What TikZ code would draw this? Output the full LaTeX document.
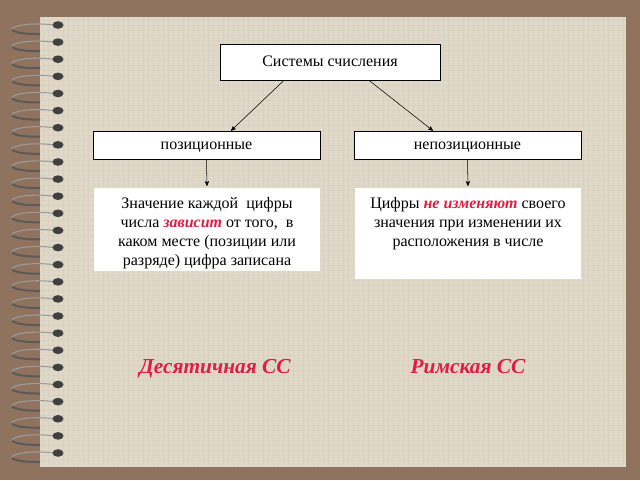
\documentclass[tikz,border=0pt]{standalone}
\usepackage{fontspec}
\setmainfont{Liberation Serif}
\usepackage{xcolor}
\usetikzlibrary{arrows}
\definecolor{board}{RGB}{143,115,95}
\definecolor{paper}{RGB}{224,216,200}
\definecolor{weave}{RGB}{218,210,193}
\definecolor{accent}{RGB}{222,30,68}
\definecolor{wire}{RGB}{90,90,88}
\tikzset{
	>=stealth', % small filled arrow heads
	box/.style={draw, thin, fill=white, text height=8.5pt, text depth=2.5pt, font=\fontsize{12}{14}\selectfont}, % framed boxes
	desc/.style={fill=white, inner sep=0pt, anchor=north, font=\fontsize{12}{14.3}\selectfont}, % white note boxes
	kind/.style={text=accent, text height=11pt, text depth=3.5pt, font=\fontsize{16}{18}\selectfont\bfseries\itshape}, % red labels at the bottom
}
\newcommand{\hl}[1]{\textcolor{accent}{\textbf{\textit{#1}}}}

\begin{document}
\begin{tikzpicture}[x=0.75pt,y=-0.75pt]
	\useasboundingbox (0,0) rectangle (640,480);
	\fill[board] (0,0) rectangle (640,480);
	\fill[paper] (40,17) rectangle (626,467);
	% faint weave of the paper
	\foreach \t in {43,48,...,623}
		\draw[weave, line width=0.25pt] (\t,17) -- (\t,467);
	\foreach \t in {20,25,...,464}
		\draw[weave, line width=0.25pt] (40,\t) -- (626,\t);

	% spiral binding
	\foreach \i in {0,...,25}
	{
		\pgfmathsetmacro{\y}{25+17.12*\i}
		\draw[wire!60, line width=0.8pt] (54,\y) .. controls (30,\y-3) and (10,\y+1) .. (12,\y+5);
		\draw[wire, line width=1.5pt] (12,\y+5) .. controls (18,\y+9) and (32,\y+9) .. (40,\y+9);
		\fill[black!75] (58,\y) ellipse [x radius=5.5, y radius=3.8];
	}

	\node[box, minimum width=165pt, minimum height=27pt] (sys) at (330,62) {Системы счисления};
	\node[box, minimum width=170pt, minimum height=21pt] (pos) at (206.5,145) {позиционные};
	\node[box, minimum width=170pt, minimum height=21pt] (npos) at (467.5,145) {непозиционные};

	\node[desc] (dpos) at (207,188) {\parbox[c][62pt][t]{169.5pt}{\centering\vspace*{6.5pt}%
		Значение каждой~ цифры\\ числа \hl{зависит} от того,~ в\\ каком месте (позиции или\\ разряде) цифра записана}};
	\node[desc] (dnpos) at (468,188) {\parbox[c][68pt][t]{169.5pt}{\centering\vspace*{6.5pt}%
		Цифры \hl{не изменяют} своего\\ значения при изменении их\\ расположения в числе}};

	\node[kind] (dec) at (215,368) {Десятичная СС};
	\node[kind] (rom) at (468,368) {Римская СС};

	\draw[->] ([xshift=-34.5pt]sys.south) -- ([xshift=18.4pt]pos.north);
	\draw[->] ([xshift=29.2pt]sys.south) -- ([xshift=-25.9pt]npos.north);
	\draw[->, shorten >=1.5pt] (pos.south) -- (dpos.north);
	\draw[->, shorten >=1.5pt] (npos.south) -- (dnpos.north);
\end{tikzpicture}
\end{document}
